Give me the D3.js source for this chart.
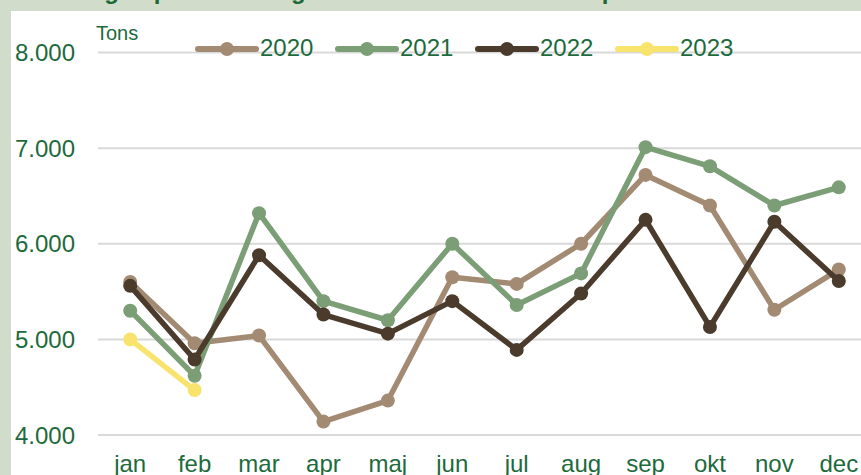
<!DOCTYPE html>
<html>
<head>
<meta charset="utf-8">
<script src="https://cdn.jsdelivr.net/npm/d3@7"></script>
<style>
  html, body { margin: 0; padding: 0; background: #d1dccb; }
  svg { display: block; font-family: "Liberation Sans", Arial, sans-serif; }
</style>
</head>
<body>
<div id="chart"></div>
<script>
const width = 861;
const height = 475;

// data (tons per month)
const months = ["jan","feb","mar","apr","maj","jun","jul","aug","sep","okt","nov","dec"];
const years = ["2020","2021","2022","2023"];
const values2020 = [5600,4960,5040,4140,4360,5650,5580,6000,6720,6400,5310,5730];
const values2021 = [5300,4620,6320,5400,5200,6000,5360,5690,7010,6810,6400,6590];
const values2022 = [5560,4790,5880,5260,5060,5400,4890,5480,6250,5130,6230,5610];
const values2023 = [5000,4470,null,null,null,null,null,null,null,null,null,null];
const yTicks = [4000,5000,6000,7000,8000];

const series = [values2020, values2021, values2022, values2023];
const colorScale = d3.scaleOrdinal().domain(years).range(["#a38a73","#7b9e76","#4a3b2d","#f8e46c"]);
const textColor = "#1d6a3c";

const fmt = d => d3.format(",")(d).replace(",", ".");

const svg = d3.select("#chart").append("svg")
    .attr("width", width)
    .attr("height", height);

// white panel
svg.append("rect")
    .attr("x", 11).attr("y", 11)
    .attr("width", width).attr("height", height)
    .attr("fill", "white");

// title, cut off at the top of the picture
svg.append("text")
    .attr("x", 15)
    .attr("y", -1)
    .attr("fill", "#1a6b35")
    .style("font-weight", "bold")
    .style("font-size", "24px")
    .text("Månedlig import af flis og brænde til Danmark i ton pr. måned");

let xScale = d3.scalePoint().domain(months).range([98, 871]).padding(0.5);
let yScale = d3.scaleLinear().domain([4000, 8000]).range([435, 52.5]);

// gridlines
svg.append("g")
    .selectAll("line")
    .data(yTicks)
    .join("line")
    .attr("x1", 98)
    .attr("x2", width)
    .attr("y1", d => yScale(d))
    .attr("y2", d => yScale(d))
    .attr("stroke", "#d9d9d9")
    .attr("stroke-width", 2);

// y labels
svg.append("g")
    .selectAll("text")
    .data(yTicks)
    .join("text")
    .attr("x", 75)
    .attr("y", d => yScale(d))
    .attr("dy", "0.36em")
    .attr("text-anchor", "end")
    .attr("fill", textColor)
    .style("font-size", "24px")
    .text(fmt);

svg.append("text")
    .attr("x", 96)
    .attr("y", 40)
    .attr("fill", textColor)
    .style("font-size", "20px")
    .text("Tons");

// x labels
svg.append("g")
    .selectAll("text")
    .data(months)
    .join("text")
    .attr("x", d => xScale(d))
    .attr("y", 472)
    .attr("text-anchor", "middle")
    .attr("fill", textColor)
    .style("font-size", "24px")
    .text(d => d);

// lines
const line = d3.line()
    .defined(d => d.v != null)
    .x(d => xScale(d.m))
    .y(d => yScale(d.v));

series.forEach((vals, i) => {
    const pts = months.map((m, j) => ({m: m, v: vals[j]}));
    const g = svg.append("g");
    g.append("path")
        .datum(pts)
        .attr("d", line)
        .attr("fill", "none")
        .attr("stroke", colorScale(years[i]))
        .attr("stroke-width", 5.5)
        .attr("stroke-linejoin", "round")
        .attr("stroke-linecap", "round");
    g.selectAll("circle")
        .data(pts.filter(d => d.v != null))
        .join("circle")
        .attr("cx", d => xScale(d.m))
        .attr("cy", d => yScale(d.v))
        .attr("r", 7)
        .attr("fill", colorScale(years[i]));
});

// legend
const legend = svg.append("g")
    .selectAll("g")
    .data(years)
    .join("g")
    .attr("transform", (d, i) => `translate(${198 + i * 140},49)`);

legend.append("line")
    .attr("x1", 0).attr("x2", 58)
    .attr("stroke", d => colorScale(d))
    .attr("stroke-width", 6)
    .attr("stroke-linecap", "round");

legend.append("circle")
    .attr("cx", 29)
    .attr("r", 7)
    .attr("fill", d => colorScale(d));

legend.append("text")
    .attr("x", 62)
    .attr("y", 7)
    .attr("fill", textColor)
    .style("font-size", "24px")
    .text(d => d);
</script>
</body>
</html>
